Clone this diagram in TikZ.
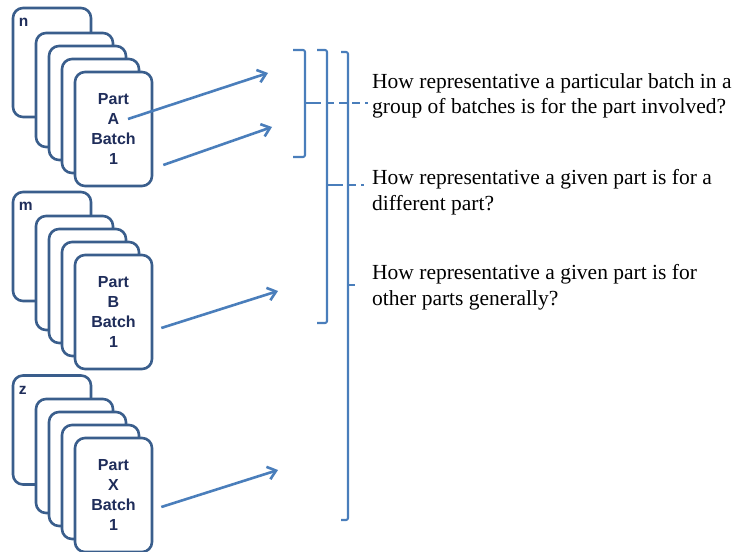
\documentclass[tikz,border=0pt]{standalone}
\usepackage{fontspec}
\setmainfont{Liberation Serif}
\newfontfamily\cardfont{Liberation Sans}
\usetikzlibrary{arrows.meta}
\definecolor{cardline}{RGB}{58,94,140}
\definecolor{cardtext}{RGB}{31,45,90}
\definecolor{linkblue}{RGB}{74,126,187}

\begin{document}
\begin{tikzpicture}[x=1pt,y=-1pt,>={Straight Barb[length=8pt,width=13pt]},line join=round]
  \tikzset{card/.style={draw=cardline,line width=2.6pt,rounded corners=10pt,fill=white,
      minimum width=77pt,minimum height=114pt,inner sep=0pt,align=center,text=cardtext,
      font=\cardfont\bfseries\fontsize{16}{19.7}\selectfont},
    backcard/.style={card,minimum width=78pt,minimum height=109pt},
    tag/.style={anchor=base west,xshift=7pt,yshift=-20pt,inner sep=0pt,text=cardtext,
      font=\cardfont\bfseries\fontsize{15.5}{19}\selectfont},
    link/.style={->,draw=linkblue,line width=2.6pt},
    brace/.style={draw=linkblue,line width=2.1pt,rounded corners=2pt},
    lead/.style={draw=linkblue,line width=1.7pt,dash pattern=on 8pt off 5pt},
    question/.style={anchor=north west,inner sep=0pt,align=left,
      font=\fontsize{21.5}{25.5}\selectfont}}
  \useasboundingbox (0,0) rectangle (735,551);
  % part A
  \node[backcard,label={[tag]north west:n}] (a0) at (52,62.5) {};
  \node[card] (a1) at (74.5,90) {};
  \node[card] (a2) at (87.5,103) {};
  \node[card] (a3) at (100.5,116) {};
  \node[card] (a4) at (113.5,129) {Part\\A\\Batch\\1};
  % part B
  \node[backcard,label={[tag]north west:m}] (b0) at (52,246.5) {};
  \node[card] (b1) at (74.5,273) {};
  \node[card] (b2) at (87.5,286) {};
  \node[card] (b3) at (100.5,299) {};
  \node[card] (b4) at (113.5,312) {Part\\B\\Batch\\1};
  % part X
  \node[backcard,label={[tag]north west:z}] (x0) at (52,430) {};
  \node[card] (x1) at (74.5,456) {};
  \node[card] (x2) at (87.5,469) {};
  \node[card] (x3) at (100.5,482) {};
  \node[card] (x4) at (113.5,495) {Part\\X\\Batch\\1};
  % arrow ends
  \coordinate (e1) at (268,73);
  \coordinate (e2) at (272,127);
  \coordinate (e3) at (278,291);
  \coordinate (e4) at (278,470);
  \draw[link] ([shift={(14.5,-10)}]a4.center) -- (e1);
  \draw[link] ([shift={(10,36)}]a4.east) -- (e2);
  \draw[link] ([shift={(8,16)}]b4.east) -- (e3);
  \draw[link] ([shift={(8,12)}]x4.east) -- (e4);
  % brackets
  \coordinate (k1) at (305,103);
  \coordinate (k2) at (327,185);
  \coordinate (k3) at (348,285);
  \draw[brace] (293,50) -- (305,50) -- (305,157) -- (293,157);
  \draw[brace] (317,50) -- (327,50) -- (327,323) -- (317,323);
  \draw[brace] (341,52) -- (348,52) -- (348,520) -- (341,520);
  \draw[brace] (k1) -- ++(8,0);
  \draw[brace] (k2) -- ++(8,0);
  \draw[brace] (k3) -- ++(7,0);
  % questions
  \node[question] (q1) at (372,73.3) {How representative a particular batch in a\\group of batches is for the part involved?};
  \node[question] (q2) at (372,169.3) {How representative a given part is for a\\different part?};
  \node[question] (q3) at (372,264.3) {How representative a given part is for\\other parts generally?};
  \draw[lead] ([xshift=8pt]k1) -- ([xshift=-4pt]k1 -| q1.west);
  \draw[lead] ([xshift=8pt]k2) -- ([xshift=-8pt]k2 -| q2.west);
\end{tikzpicture}
\end{document}
